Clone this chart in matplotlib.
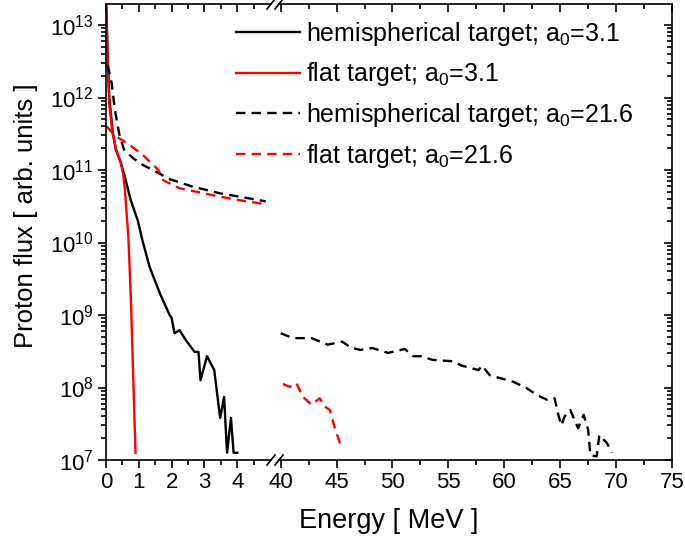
import numpy as np
import matplotlib
matplotlib.use("Agg")
import matplotlib.pyplot as plt
from matplotlib.lines import Line2D
from matplotlib.ticker import FixedLocator, MultipleLocator, LogLocator, NullFormatter

plt.rcParams['font.family'] = ['Liberation Sans', 'DejaVu Sans']
plt.rcParams['mathtext.fontset'] = 'custom'
plt.rcParams['mathtext.rm'] = 'Liberation Sans'
plt.rcParams['mathtext.it'] = 'Liberation Sans:italic'

# hemispherical target, a0 = 3.1 (solid black)
e_hemi_3 = [0.0, 0.05, 0.1, 0.2, 0.3, 0.45, 0.58, 0.75, 0.97, 1.11, 1.33, 1.64, 1.94, 2.0,
            2.09, 2.24, 2.42, 2.7, 2.82, 2.88, 3.08, 3.3, 3.48, 3.6, 3.69, 3.81, 3.89, 4.0]
f_hemi_3 = [2.5e13, 4.0e12, 1.0e12, 3.5e11, 1.9e11, 1.26e11, 7.9e10, 3.9e10, 2.0e10, 1.07e10,
            4.6e9, 2.0e9, 1.0e9, 9.1e8, 5.6e8, 6.2e8, 4.6e8, 3.1e8, 3.1e8, 1.26e8, 2.7e8,
            1.74e8, 3.8e7, 7.4e7, 1.26e7, 3.8e7, 1.26e7, 1.26e7]

# flat target, a0 = 3.1 (solid red)
e_flat_3 = [0.0, 0.05, 0.1, 0.2, 0.3, 0.45, 0.52, 0.58, 0.62, 0.68, 0.76, 0.82, 0.9]
f_flat_3 = [2.5e13, 3.2e12, 8.0e11, 3.2e11, 2.0e11, 1.26e11, 9.1e10, 5.2e10, 2.8e10,
            1.26e10, 1.6e9, 2.0e8, 1.26e7]

# hemispherical target, a0 = 21.6 (dashed black)
e_hemi_21 = [0.05, 0.17, 0.27, 0.4, 0.55, 0.83, 1.13, 1.6, 1.9, 2.64, 3.45, 4.87,
             40.0, 41.1, 42.75, 44.2, 45.5, 46.2, 47.1, 48.2, 49.6, 51.1, 51.85, 52.6,
             53.6, 55.4, 56.2, 57.7, 58.0, 58.7, 59.6, 60.8, 62.0, 62.9, 63.8, 64.5,
             64.8, 65.1, 65.4, 65.9, 66.3, 66.6, 67.1, 67.5, 67.7, 68.26, 68.5, 69.2, 69.6]
f_hemi_21 = [2.8e12, 1.6e12, 6.8e11, 3.2e11, 1.9e11, 1.45e11, 1.17e11, 9.1e10, 7.6e10,
             5.9e10, 4.8e10, 3.7e10,
             5.6e8, 4.8e8, 4.8e8, 3.9e8, 4.3e8, 3.6e8, 3.3e8, 3.5e8, 3.0e8, 3.4e8, 2.7e8,
             2.7e8, 2.4e8, 2.3e8, 2.0e8, 1.74e8, 2.0e8, 1.48e8, 1.35e8, 1.2e8, 9.8e7,
             7.9e7, 6.8e7, 7.1e7, 4.4e7, 3.0e7, 4.0e7, 4.9e7, 3.5e7, 2.75e7, 4.2e7,
             2.6e7, 1.17e7, 1.12e7, 2.2e7, 1.7e7, 1.26e7]

# flat target, a0 = 21.6 (dashed red)
e_flat_21 = [0.02, 0.27, 0.73, 1.13, 1.6, 1.75, 2.24, 3.25, 3.96, 4.82,
             40.2, 40.8, 41.4, 42.0, 42.75, 43.5, 43.9, 44.4, 44.8, 45.3]
f_flat_21 = [4.0e11, 3.0e11, 2.2e11, 1.6e11, 1.0e11, 7.2e10, 5.6e10, 4.5e10, 3.9e10, 3.4e10,
             1.12e8, 1.02e8, 1.15e8, 7.4e7, 5.8e7, 7.1e7, 5.5e7, 4.9e7, 2.9e7, 1.7e7]

labels = ["hemispherical target; a$_0$=3.1", "flat target; a$_0$=3.1",
          "hemispherical target; a$_0$=21.6", "flat target; a$_0$=21.6"]

left_ticks = [0, 1, 2, 3, 4]
left_minor = [0.5, 1.5, 2.5, 3.5, 4.5]

W, H = 685, 541
fig = plt.figure(figsize=(W / 100, H / 100), dpi=100)

x_l0, x_l1, x_r0, x_r1 = 106, 271, 279, 672
y_bot, y_top = 460, 4
bottom = 1 - y_bot / H
height = (y_bot - y_top) / H
ax1 = fig.add_axes([x_l0 / W, bottom, (x_l1 - x_l0) / W, height])
ax2 = fig.add_axes([x_r0 / W, bottom, (x_r1 - x_r0) / W, height], sharey=ax1)

dash = (0, (4.0, 2.6))
series = [
    (e_hemi_3, f_hemi_3, 'black', '-'),
    (e_flat_3, f_flat_3, '#ff0000', '-'),
    (e_hemi_21, f_hemi_21, 'black', dash),
    (e_flat_21, f_flat_21, '#ff0000', dash),
]

handles = []
for e, f, c, ls in series:
    e = np.array(e)
    f = np.array(f)
    lo = e < 20
    h, = ax1.plot(e[lo], f[lo], color=c, ls=ls, lw=1.7)
    if (~lo).any():
        ax2.plot(e[~lo], f[~lo], color=c, ls=ls, lw=1.7)
    handles.append(h)

ax1.set_yscale('log')
ax1.set_ylim(1e7, 1.95e13)
ax1.set_xlim(0, (x_l1 - x_l0) / 32.8)
ax2.set_xlim(40 - (280.7 - x_r0) / 11.23, 75)

ax1.xaxis.set_major_locator(FixedLocator(left_ticks))
ax1.xaxis.set_minor_locator(FixedLocator(left_minor))
ax2.xaxis.set_major_locator(MultipleLocator(5))
ax2.xaxis.set_minor_locator(MultipleLocator(2.5))
ax1.yaxis.set_major_locator(LogLocator(base=10, numticks=20))
ax1.yaxis.set_minor_locator(LogLocator(base=10, subs=np.arange(2, 10), numticks=20))
ax1.yaxis.set_minor_formatter(NullFormatter())

for ax in (ax1, ax2):
    for sp in ax.spines.values():
        sp.set_linewidth(1.2)
    ax.tick_params(which='both', width=1.2, labelsize=16)
    ax.tick_params(which='major', length=6)
    ax.tick_params(which='minor', length=3.5)
    ax.tick_params(axis='x', which='both', direction='out', bottom=True, top=False, pad=3)

ax1.spines['right'].set_visible(False)
ax2.spines['left'].set_visible(False)
ax1.tick_params(axis='y', which='both', direction='out', left=True, right=False, pad=3)
ax2.tick_params(axis='y', which='both', direction='in', left=False, right=True, labelleft=False)

# inward ticks on top spine
for ax in (ax1, ax2):
    sec = ax.secondary_xaxis('top')
    sec.xaxis.set_major_locator(ax.xaxis.get_major_locator())
    sec.xaxis.set_minor_locator(ax.xaxis.get_minor_locator())
    sec.tick_params(which='both', direction='in', labeltop=False, width=1.2)
    sec.tick_params(which='major', length=6)
    sec.tick_params(which='minor', length=3.5)
    sec.spines['top'].set_visible(False)

# axis break marks
for yp in (y_bot, y_top):
    for xp in (x_l1, x_r0):
        fig.add_artist(Line2D([(xp - 4) / W, (xp + 4) / W],
                              [1 - (yp + 5) / H, 1 - (yp - 5) / H],
                              color='black', lw=1.2, transform=fig.transFigure,
                              clip_on=False))

fig.text(14 / W, 1 - 216 / H, "Proton flux [ arb. units ]", rotation=90,
         ha='left', va='center', fontsize=18.5)
fig.text(389 / W, 1 - 521 / H, "Energy [ MeV ]", ha='center', va='center', fontsize=19.5)

fig.legend(handles, labels, loc='upper left',
           bbox_to_anchor=(236 / W, 1 - 20 / H), frameon=False, fontsize=18,
           handlelength=2.55, handletextpad=0.27, labelspacing=0.5,
           borderpad=0, borderaxespad=0)

fig.savefig("out.png", dpi=100)
